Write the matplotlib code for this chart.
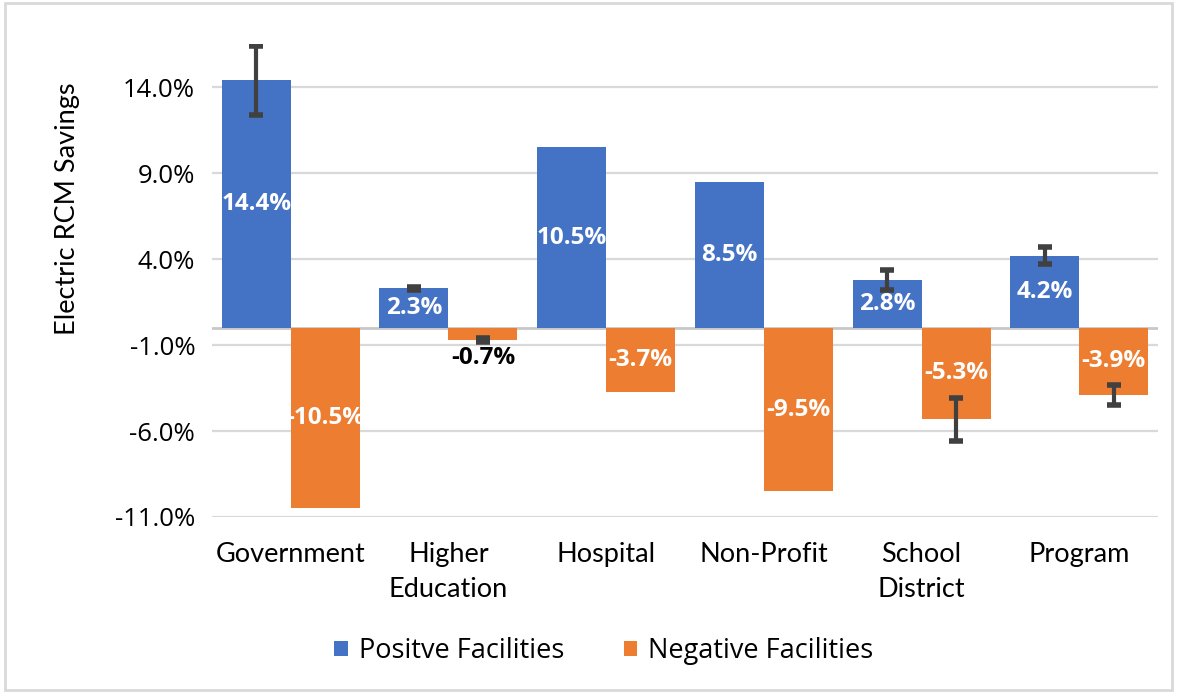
import numpy as np
import matplotlib
matplotlib.use("Agg")
import matplotlib.pyplot as plt
from matplotlib.patches import Rectangle
from matplotlib.ticker import FuncFormatter

categories = ["Government", "Higher\nEducation", "Hospital", "Non-Profit", "School\nDistrict", "Program"]
positive = [14.4, 2.3, 10.5, 8.5, 2.8, 4.2]
negative = [-10.5, -0.7, -3.7, -9.5, -5.3, -3.9]
# error bar half-widths (nan = no bar drawn)
positive_err = [2.0, 0.1, np.nan, np.nan, 0.6, 0.5]
negative_err = [np.nan, 0.1, np.nan, np.nan, 1.25, 0.6]
yticks = [-11, -6, -1, 4, 9, 14]

BLUE = "#4472C4"
ORANGE = "#ED7D31"
GRID = "#D9D9D9"

fig = plt.figure(figsize=(11.77, 6.92), dpi=100)
ax = fig.add_axes([0.180, 0.2529, 0.804, 0.683])

x = np.arange(len(categories))
w = 0.4375
b1 = ax.bar(x - w / 2, positive, w, color=BLUE, label="Positve Facilities", zorder=2)
b2 = ax.bar(x + w / 2, negative, w, color=ORANGE, label="Negative Facilities", zorder=2)

for xs, vals, errs in [(x - w / 2, positive, positive_err), (x + w / 2, negative, negative_err)]:
    errs = np.array(errs)
    m = ~np.isnan(errs)
    ax.errorbar(xs[m], np.array(vals)[m], yerr=errs[m], fmt="none", ecolor="#404040",
                elinewidth=3, capsize=5, capthick=4, zorder=3)

lab_font = dict(fontsize=17.5, fontweight="bold", family="Open Sans")
for xi, v in zip(x - w / 2, positive):
    ax.text(xi, v / 2, f"{v:.1f}%", ha="center", va="center", color="white", zorder=4, **lab_font)
for xi, v in zip(x + w / 2, negative):
    if abs(v) < 2:
        ax.text(xi, v - 0.35, f"{v:.1f}%", ha="center", va="top", color="black", zorder=4, **lab_font)
    else:
        ax.text(xi, v / 2, f"{v:.1f}%", ha="center", va="center", color="white", zorder=4, **lab_font)

ax.set_xlim(-0.5, len(categories) - 0.5)
ax.set_ylim(-11, 16.5)
ax.set_yticks(yticks)
ax.yaxis.set_major_formatter(FuncFormatter(lambda v, p: f"{v:.1f}%"))
ax.grid(axis="y", color=GRID, lw=1.6, zorder=0)
ax.axhline(0, color="#C8C8C8", lw=2, zorder=1)
ax.set_xticks(x)
ax.set_xticklabels(categories, fontsize=19.5, family="Lato", linespacing=1.5)
ax.tick_params(axis="x", length=0, pad=18)
ax.tick_params(axis="y", length=0, pad=12, labelsize=18.5)
for t in ax.get_yticklabels():
    t.set_family("Open Sans")
for s in ax.spines.values():
    s.set_visible(False)
ax.set_ylabel("Electric RCM Savings", fontsize=19.5, family="Lato")
ax.yaxis.set_label_coords(-0.1395, 0.653)

fig.legend(handles=[b1, b2], loc="center", bbox_to_anchor=(0.513, 0.059), ncol=2, frameon=False,
           prop={"family": "Open Sans", "size": 19.5}, handlelength=0.5, handleheight=0.5,
           handletextpad=0.4, columnspacing=2.2)

fig.patches.append(Rectangle((0.004, 0.003), 0.992, 0.992, transform=fig.transFigure,
                             fill=False, edgecolor=GRID, lw=2))

fig.savefig("out.png", dpi=100)
